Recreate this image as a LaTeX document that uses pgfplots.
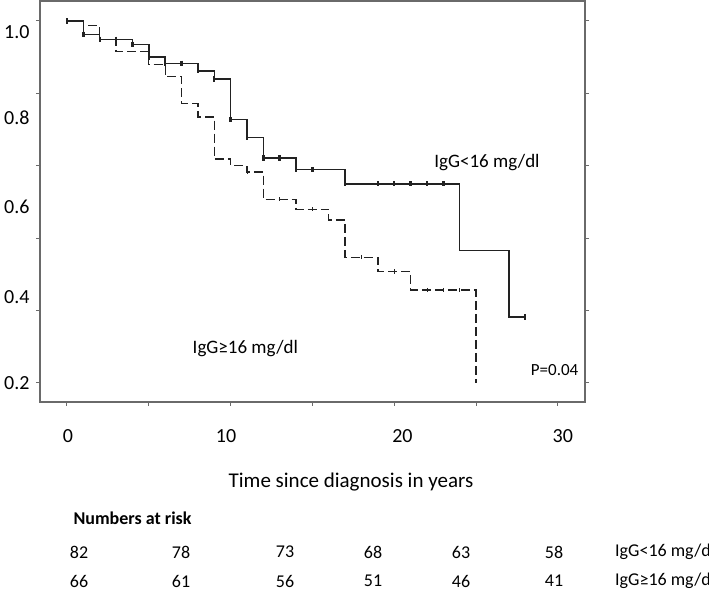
\documentclass[border=0pt]{standalone}
\usepackage{pgfplots}
\pgfplotsset{compat=1.18}
\usepackage{fontspec}
\setmainfont{Carlito}
\definecolor{ln}{HTML}{222222}
\definecolor{ax}{HTML}{6A6A6A}
\begin{document}
\begin{tikzpicture}[x=1pt,y=1pt]
\useasboundingbox (-40,-191) rectangle (669,402);
\begin{axis}[
  at={(0,0)}, anchor=south west,
  scale only axis, width=545pt, height=401pt,
  xmin=-1.65, xmax=31.66, ymin=0.158, ymax=1.0442,
  axis line style={draw=ax, line width=1.2pt},
  xtick={0,5,...,30}, xticklabels={},
  ytick={1.0,0.84,0.68,0.52,0.36,0.2}, yticklabels={},
  tick align=outside, major tick length=4pt,
  tick style={ax, line width=1pt},
  extra x ticks={0.06,9.72,20.5,30.3},
  extra x tick labels={0,10,20,30},
  extra y ticks={0.9757,0.7856,0.589,0.3901,0.2},
  extra y tick labels={1.0,0.8,0.6,0.4,0.2},
  extra tick style={major tick length=0pt},
  xticklabel style={font=\fontsize{20}{24}\selectfont, yshift=-24pt},
  yticklabel style={font=\fontsize{20}{24}\selectfont, xshift=-7pt},
  clip=false,
]
% IgG<16 mg/dl (solid)
\addplot[const plot, ln, line width=1.5pt] coordinates {
(0,1.0) (1,0.9706) (2,0.9595) (4,0.9485) (5,0.920) (6,0.9065) (8,0.890)
(9,0.872) (10,0.782) (11,0.742) (12,0.697) (14,0.672) (17,0.640)
(24,0.4925) (27,0.346) (28,0.346)};
\addplot[only marks, mark=|, mark size=2.6pt, mark options={ln, line width=2.4pt}] coordinates {
(0,1.0) (1,0.9706) (2,0.9595) (3,0.9595) (4,0.9485) (5,0.920) (6,0.9065) (7,0.9065)
(8,0.890) (9,0.872) (10,0.782) (11,0.742) (12,0.697) (13,0.697) (14,0.672) (15,0.672)
(17,0.640) (19,0.640) (20,0.640) (21,0.640) (22,0.640) (23,0.640) (28,0.346)};
% IgG>=16 mg/dl (dashed)
\addplot[const plot, ln, line width=1.3pt, dash pattern=on 9pt off 4pt] coordinates {
(0,1.0) (1,0.9896) (2,0.9595) (3,0.932) (5,0.904) (6,0.877) (7,0.817) (8,0.788)
(9,0.695) (10,0.680) (11,0.666) (12,0.606) (14,0.584) (16,0.560) (17,0.478)
(19,0.446) (21,0.4055) (25,0.4055) (25,0.2)};
\addplot[only marks, mark=|, mark size=2.2pt, mark options={ln, line width=0.9pt}] coordinates {
(11,0.666) (13,0.606) (15,0.584) (18,0.478) (20,0.446) (22,0.4055) (23,0.4055) (24,0.4055)};
\node[font=\fontsize{19}{23}\selectfont] at (axis cs:25.67,0.688) {IgG<16 mg/dl};
\node[font=\fontsize{19}{23}\selectfont] at (axis cs:10.9,0.277) {IgG≥16 mg/dl};
\node[font=\fontsize{17}{21}\selectfont] at (axis cs:29.8,0.229) {P=0.04};
\end{axis}
\node[font=\fontsize{21}{25}\selectfont] at (311,-80) {Time since diagnosis in years};
\node[font=\bfseries\fontsize{18}{22}\selectfont, anchor=west] at (30,-116) {Numbers at risk};
\foreach \x/\a/\b in {39/82/66, 141/78/61, 245/73/56, 333/68/51, 421/63/46, 514/58/41} {
  \node[font=\fontsize{18}{22}\selectfont, inner sep=1pt] at (\x,-150) {\a};
  \node[font=\fontsize{18}{22}\selectfont, inner sep=1pt] at (\x,-179) {\b};
}
\node[font=\fontsize{18}{22}\selectfont, anchor=west, inner sep=1pt] at (574,-150) {IgG<16 mg/dl};
\node[font=\fontsize{18}{22}\selectfont, anchor=west, inner sep=1pt] at (574,-179) {IgG≥16 mg/dl};
\end{tikzpicture}
\end{document}
